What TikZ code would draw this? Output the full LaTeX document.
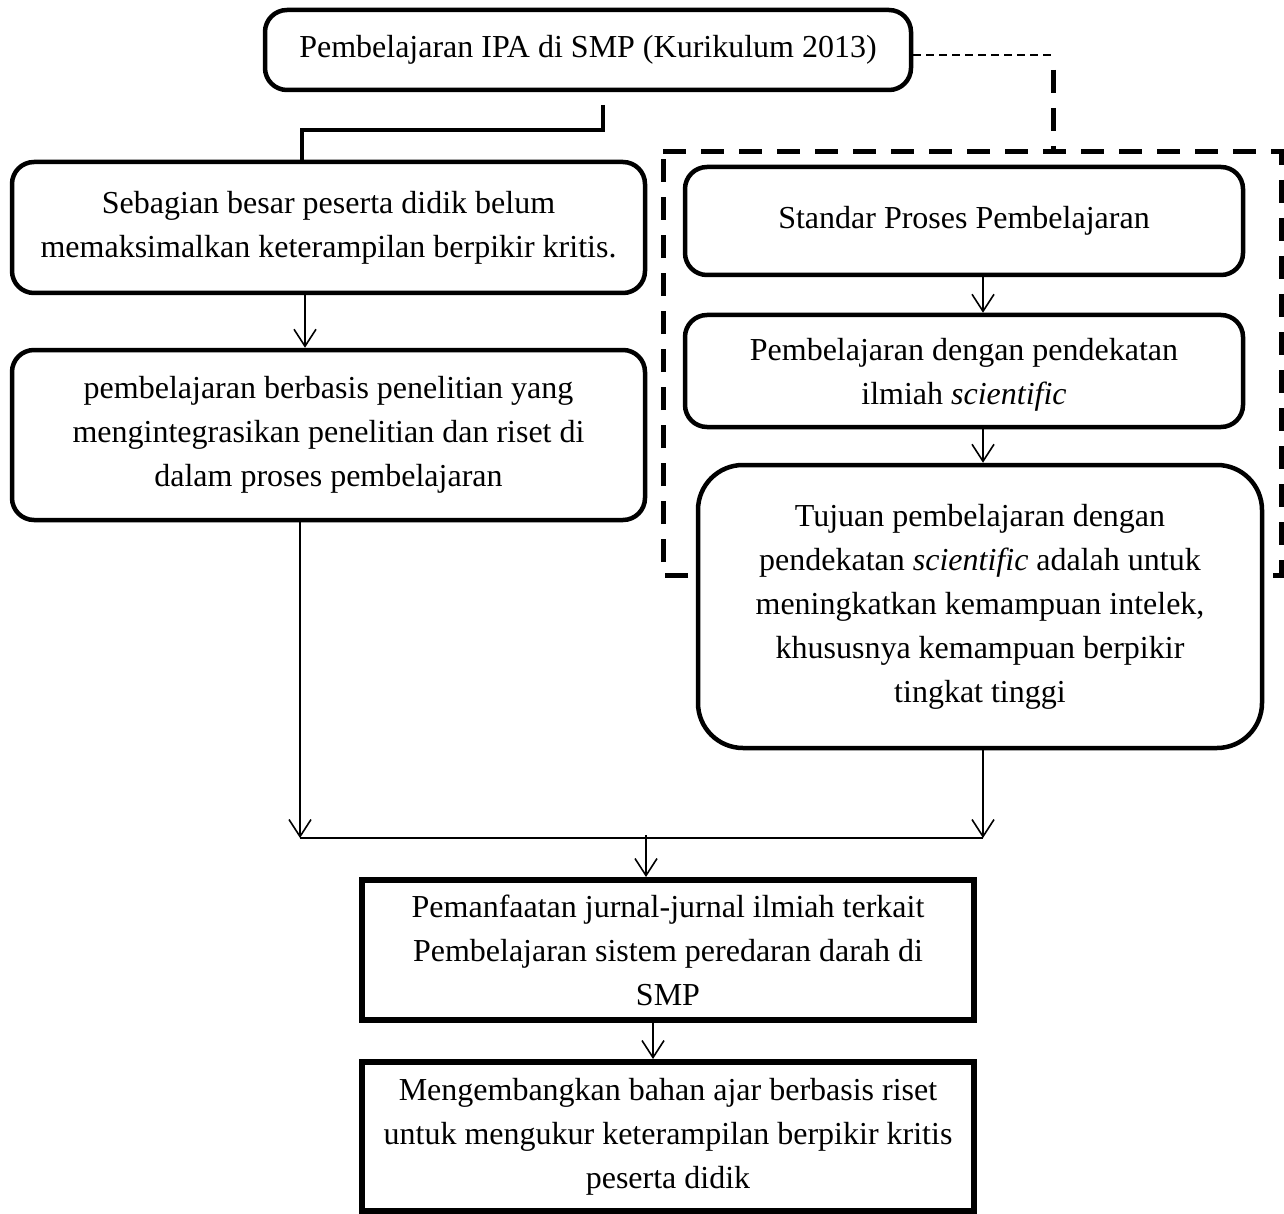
\documentclass[tikz,border=0pt]{standalone}
\usepackage{fontspec}
\setmainfont{Liberation Serif}
\usetikzlibrary{arrows.meta,calc}
\begin{document}
\begin{tikzpicture}[x=1pt,y=-1pt,
  txt/.style={align=center, inner sep=0pt, font=\fontsize{32}{44}\selectfont},
  rbox/.style={txt, draw, line width=4.5pt, rounded corners=22pt, fill=white},
  bigr/.style={rbox, rounded corners=45pt},
  sbox/.style={txt, draw, line width=6pt, fill=white},
  arr/.style={line width=1.6pt, -{Straight Barb[length=17pt,width=22pt,line width=1.6pt]}},
  thinline/.style={line width=1.6pt},
  thickdash/.style={line width=5pt, dash pattern=on 23pt off 15pt},
  thindash/.style={line width=1.6pt, dash pattern=on 8pt off 5pt}
]
\useasboundingbox (0,0) rectangle (1284,1214);

% dashed frame (drawn first, box C covers it)
\draw[thickdash] (663,152) -- (1281,152) -- (1281,575) -- (663,575) -- cycle;

\node[rbox, minimum width=646pt, minimum height=80pt] (top) at (588,50)
  {Pembelajaran IPA di SMP (Kurikulum 2013)};
\node[rbox, minimum width=633pt, minimum height=131pt] (L1) at (328.5,227.5)
  {Sebagian besar peserta didik belum\\memaksimalkan keterampilan berpikir kritis.};
\node[rbox, minimum width=633pt, minimum height=170pt] (L2) at (328.5,435)
  {pembelajaran berbasis penelitian yang\\mengintegrasikan penelitian dan riset di\\dalam proses pembelajaran};
\node[rbox, minimum width=558pt, minimum height=108pt] (A) at (964,221)
  {Standar Proses Pembelajaran};
\node[rbox, minimum width=558pt, minimum height=112pt] (B) at (964,371)
  {};
\node[txt] (Bt) at (964,375)
  {Pembelajaran dengan pendekatan\\ilmiah \textit{scientific}};
\node[bigr, minimum width=564pt, minimum height=283pt] (C) at (980,606.5)
  {Tujuan pembelajaran dengan\\pendekatan \textit{scientific} adalah untuk\\meningkatkan kemampuan intelek,\\khususnya kemampuan berpikir\\tingkat tinggi};
\node[sbox, minimum width=612pt, minimum height=140pt] (D) at (668,950)
  {Pemanfaatan jurnal-jurnal ilmiah terkait\\Pembelajaran sistem peredaran darah di\\SMP};
\node[sbox, minimum width=612pt, minimum height=149pt] (E) at (668,1136.5)
  {Mengembangkan bahan ajar berbasis riset\\untuk mengukur keterampilan berpikir kritis\\peserta didik};

% dashed link from top box to frame
\coordinate (dv) at (1053,55);
\coordinate (dv2) at (1053,70);
\coordinate (dv3) at (1053,152);
\draw[thindash] ($(top.east)+(0,5)$) -- (dv);
\draw[thickdash] (dv2) -- (dv3);

% solid elbow from top box to L1
\coordinate (e1) at (603,105);
\coordinate (e2) at (302,130);
\draw[line width=4.5pt] (e1) |- (e2) -- (e2 |- L1.north);

% arrows
\coordinate (xl) at (305,0);
\coordinate (xr) at (983,0);
\coordinate (xm) at (653,0);
\coordinate (jl) at (300,838);
\coordinate (jr) at (983,838);
\coordinate (jm) at (646,835);
\draw[arr] (L1.south -| xl) -- (L2.north -| xl);
\draw[arr] (A.south -| xr) -- (B.north -| xr);
\draw[arr] (B.south -| xr) -- (C.north -| xr);
\draw[arr] (L2.south -| jl) -- (jl);
\draw[arr] (C.south -| jr) -- (jr);
\draw[thinline] (jl) -- (jr);
\draw[arr] (jm) -- (D.north -| jm);
\draw[arr] (D.south -| xm) -- (E.north -| xm);
\end{tikzpicture}
\end{document}
